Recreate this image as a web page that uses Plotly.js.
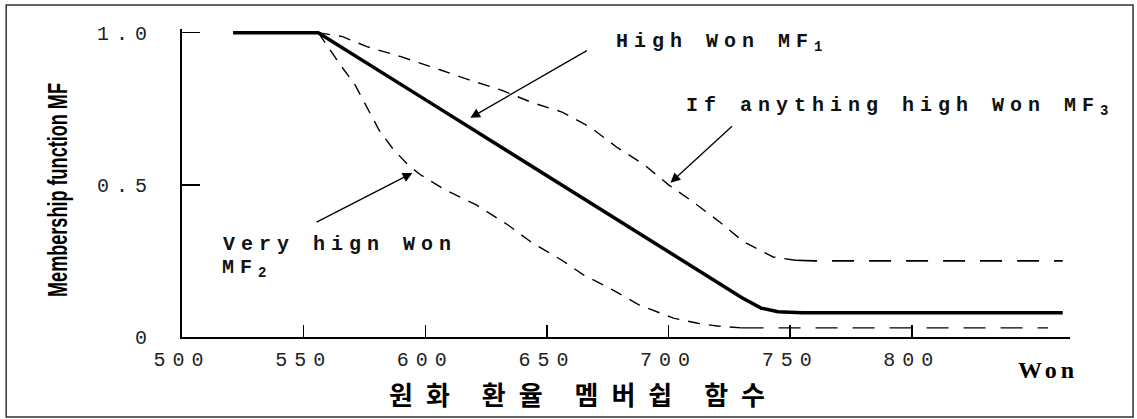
<!DOCTYPE html>
<html>
<head>
<meta charset="utf-8">
<script src="https://cdn.plot.ly/plotly-3.0.1.min.js"></script>
<style>
  html, body { margin: 0; padding: 0; background: #fff; }
  #chart { width: 1137px; height: 419px; }
  .xtick text, .ytick text { letter-spacing: 7px; }
  .annotation-text { letter-spacing: 6px; }
  .annotation[data-index="0"] .annotation-text { letter-spacing: 13px; }
  .annotation[data-index="1"] .annotation-text { letter-spacing: 4px; }
</style>
</head>
<body>
<div id="chart"></div>
<script>
// ---- data ----
const xTicks = [500, 550, 600, 650, 700, 750, 800];
const xTickText = ['500', '550', '600', '650', '700', '750', '800'];
const yTicks = [0, 0.5, 1.0];
const yTickText = ['0', '0.5', '1.0'];

// High Won MF1 (solid)
const mf1X = [521, 556, 600, 650, 700, 730, 738, 745, 755, 862];
const mf1Y = [1.0, 1.0, 0.78, 0.53, 0.28, 0.13, 0.095, 0.083, 0.08, 0.08];

// Very high Won MF2 (lower dashed)
const mf2X = [556, 562, 565, 571, 576, 581, 587, 593, 598, 608, 621, 634, 644, 656, 665, 677, 688, 702, 712, 720, 730, 745, 856];
const mf2Y = [1.0, 0.928, 0.895, 0.83, 0.755, 0.68, 0.615, 0.565, 0.533, 0.484, 0.434, 0.368, 0.309, 0.253, 0.204, 0.155, 0.105, 0.062, 0.045, 0.036, 0.03, 0.03, 0.03];

// If anything high Won MF3 (upper dashed)
const mf3X = [556, 566, 576, 590, 606, 618, 631, 644, 656, 668, 679, 690, 700, 710, 721, 731, 743, 752, 760, 862];
const mf3Y = [1.0, 0.987, 0.954, 0.921, 0.878, 0.845, 0.812, 0.77, 0.74, 0.688, 0.622, 0.566, 0.5, 0.444, 0.378, 0.312, 0.263, 0.252, 0.25, 0.25];

const xTitle = '원화 환율 멤버쉽 함수';
const yTitle = 'Membership function MF';
const unitLabel = 'Won';
const labelMF1 = 'High Won MF<sub>1</sub>';
const labelMF3 = 'If anything high Won MF<sub>3</sub>';
const labelMF2a = 'Very hign Won';
const labelMF2b = 'MF<sub>2</sub>';

// split index where the flat tails start (drawn with longer dashes)
const mf2Flat = mf2X.indexOf(730);
const mf3Flat = mf3X.indexOf(752);

const shortDash = '12px,9px';
const longDash = '22px,15px';

const traces = [
  { x: mf1X, y: mf1Y, mode: 'lines', line: { color: '#000', width: 3.5 }, name: 'MF1' },
  { x: mf2X.slice(0, mf2Flat + 1), y: mf2Y.slice(0, mf2Flat + 1), mode: 'lines', line: { color: '#000', width: 1.4, dash: shortDash }, name: 'MF2' },
  { x: mf2X.slice(mf2Flat), y: mf2Y.slice(mf2Flat), mode: 'lines', line: { color: '#000', width: 1.4, dash: longDash }, name: 'MF2 tail' },
  { x: mf3X.slice(0, mf3Flat + 1), y: mf3Y.slice(0, mf3Flat + 1), mode: 'lines', line: { color: '#000', width: 1.4, dash: shortDash }, name: 'MF3' },
  { x: mf3X.slice(mf3Flat), y: mf3Y.slice(mf3Flat), mode: 'lines', line: { color: '#000', width: 1.6, dash: longDash }, name: 'MF3 tail' }
];

const monoFont = { family: 'Liberation Mono, Courier New, monospace', size: 20, color: '#111', weight: 'bold' };

const layout = {
  width: 1137, height: 419,
  margin: { l: 182, r: 67, t: 29, b: 82, pad: 0 },
  paper_bgcolor: '#fff', plot_bgcolor: '#fff',
  showlegend: false,
  xaxis: {
    range: [500, 865], tickvals: xTicks, ticktext: xTickText,
    ticks: 'inside', ticklen: 12, tickwidth: 1.5, tickcolor: '#000',
    showline: true, linewidth: 2, linecolor: '#000',
    showgrid: false, zeroline: false,
    tickfont: { family: 'Liberation Mono, Courier New, monospace', size: 20, color: '#222' },
    ticklabelstandoff: 3
  },
  yaxis: {
    range: [0, 1.012], tickvals: yTicks, ticktext: yTickText,
    ticks: 'inside', ticklen: 18, tickwidth: 1.5, tickcolor: '#000',
    showline: true, linewidth: 2, linecolor: '#000',
    showgrid: false, zeroline: false,
    tickfont: { family: 'Liberation Mono, Courier New, monospace', size: 20, color: '#222' },
    ticklabelstandoff: 22,
    title: { text: yTitle, standoff: 22,
      font: { family: 'Liberation Sans, Arial, sans-serif', size: 27, color: '#000', weight: 'bold' } }
  },
  annotations: [
    { text: xTitle, xref: 'paper', yref: 'paper', x: 0.452, y: -0.182, xanchor: 'center', yanchor: 'middle', showarrow: false,
      font: { family: 'Noto Sans CJK KR, sans-serif', size: 26, color: '#000', weight: 'bold' } },
    { text: unitLabel, xref: 'paper', yref: 'paper', x: 0.975, y: -0.107, xanchor: 'center', yanchor: 'middle', showarrow: false,
      font: { family: 'Liberation Serif, serif', size: 24, color: '#000', weight: 'bold' } },
    { text: labelMF1, xref: 'paper', yref: 'paper', x: 0.608, y: 0.955, xanchor: 'center', yanchor: 'middle', showarrow: false, font: monoFont },
    { text: labelMF3, xref: 'paper', yref: 'paper', x: 0.809, y: 0.75, xanchor: 'center', yanchor: 'middle', showarrow: false, font: monoFont },
    { text: labelMF2a, xref: 'paper', yref: 'paper', x: 0.178, y: 0.299, xanchor: 'center', yanchor: 'middle', showarrow: false, font: monoFont },
    { text: labelMF2b, xref: 'paper', yref: 'paper', x: 0.073, y: 0.222, xanchor: 'center', yanchor: 'middle', showarrow: false, font: monoFont },
    // arrows
    { text: '', xref: 'x', yref: 'y', axref: 'x', ayref: 'y', x: 618.5, y: 0.72, ax: 667, ay: 0.944,
      showarrow: true, arrowhead: 2, arrowsize: 1.5, arrowwidth: 1.3, arrowcolor: '#000', standoff: 0, startstandoff: 0 },
    { text: '', xref: 'x', yref: 'y', axref: 'x', ayref: 'y', x: 700.8, y: 0.507, ax: 726.7, ay: 0.697,
      showarrow: true, arrowhead: 2, arrowsize: 1.5, arrowwidth: 1.3, arrowcolor: '#000', standoff: 0, startstandoff: 0 },
    { text: '', xref: 'x', yref: 'y', axref: 'x', ayref: 'y', x: 594.7, y: 0.539, ax: 554.7, ay: 0.375,
      showarrow: true, arrowhead: 2, arrowsize: 1.5, arrowwidth: 1.3, arrowcolor: '#000', standoff: 0, startstandoff: 0 }
  ],
  shapes: [
    { type: 'rect', xref: 'paper', yref: 'paper', x0: -0.198, x1: 1.071, y0: -0.26, y1: 1.078,
      line: { color: '#333', width: 1.5 }, fillcolor: 'rgba(0,0,0,0)', layer: 'below' }
  ]
};

Plotly.newPlot('chart', traces, layout, { displayModeBar: false, staticPlot: true }).then(function (gd) {
  // condense the y-axis title along its length, like the narrow face of the original
  const t = gd.querySelector('.ytitle');
  if (!t) return;
  const x = parseFloat(t.getAttribute('x'));
  const y = parseFloat(t.getAttribute('y'));
  const len = t.getBBox().width;
  const targetLen = 214;
  const sx = len > 0 ? targetLen / len : 1;
  const base = t.getAttribute('transform') || '';
  t.setAttribute('transform', base + ' translate(' + (x - 7) + ',' + y + ') scale(' + sx + ',1) translate(' + (-x) + ',' + (-y) + ')');
});
</script>
</body>
</html>
